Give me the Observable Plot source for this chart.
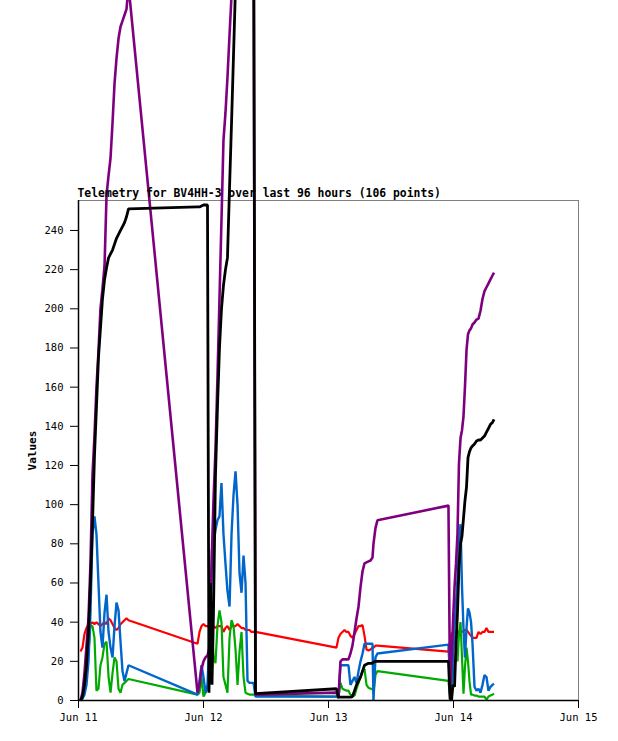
<!DOCTYPE html>
<html>
<head>
<meta charset="utf-8">
<script src="https://cdn.jsdelivr.net/npm/d3@7"></script>
<script src="https://cdn.jsdelivr.net/npm/@observablehq/plot@0.6"></script>
<style>
  html, body { margin: 0; padding: 0; background: #fff; }
  #chart svg { display: block; overflow: visible; }
</style>
</head>
<body>
<div id="chart"></div>
<script>
const title = "Telemetry for BV4HH-3 over last 96 hours (106 points)";
const yLabel = "Values";
const xTickLabels = ["Jun 11", "Jun 12", "Jun 13", "Jun 14", "Jun 15"];
const yTicks = [0, 20, 40, 60, 80, 100, 120, 140, 160, 180, 200, 220, 240];

// minutes after Jun 11 00:00 (UTC)
const minutes = [
  23, 46, 69, 92, 115, 138, 161, 184, 207, 230, 253, 276, 300, 323, 346, 369, 392, 415, 438, 461, 484, 507, 530, 553, 576,
  1371, 1394, 1417, 1440, 1463, 1486, 1503, 1521, 1538, 1555, 1578, 1601, 1624, 1647, 1670, 1693, 1716, 1740, 1763, 1786, 1809, 1832, 1855, 1878, 1901, 1924, 1947, 1970, 1993, 2016, 2039,
  2972, 2995, 3018, 3041, 3064, 3087, 3110, 3133, 3156, 3180, 3203, 3226, 3249, 3272, 3295, 3318, 3341, 3364, 3387, 3398, 3421, 3444,
  4262, 4280, 4297, 4314, 4332, 4349, 4366, 4383, 4401, 4418, 4435, 4452, 4470, 4487, 4504, 4522, 4539, 4562, 4585, 4608, 4631, 4654, 4677, 4700, 4723, 4746, 4769, 4787
];

const redValues = [
  25, 27, 34, 37, 39, 39, 40, 39, 40, 39, 38, 39, 40, 39, 42, 41, 39, 37, 36, 37, 39, 40, 41, 42, 41,
  29, 35, 38, 39, 38, 38, 38, 37, 38, 38, 37, 38, 38, 38, 35, 37, 38, 36, 38, 38, 38, 39, 38, 37, 37, 36, 36, 36, 35, 35, 35,
  27, 32, 34, 35, 36, 35, 35, 33, 32, 34, 36, 38, 38, 38.5, 33, 26, 25.5, 26, 27, 27, 28, 28,
  25, 30, 34, 35, 35, 34.5, 35, 35, 35, 35, 35.5, 36, 36, 35, 34, 33, 32, 32, 32, 35, 34, 35, 35, 37, 35, 35, 35, 35
];

const greenValues = [
  0, 1, 5, 15, 25, 38, 38, 32, 5, 6, 18, 22, 29, 30, 12, 4, 14, 22, 20, 6, 4, 8, 9, 10, 11,
  3, 4, 12, 2, 4, 6, 15, 24, 34, 23, 19, 38, 46, 40, 12, 8, 4, 32, 41, 38, 26, 8, 25, 35, 12, 4, 3.5, 3, 3, 3, 2.5,
  2, 1.5, 9, 6, 5.5, 5, 5, 3, 2.5, 2.5, 6, 9, 12, 15, 16, 8, 6.5, 6, 6, 4, 13, 15,
  10, 2, 5, 14, 18, 24, 20, 34, 40, 22, 3.5, 17, 27, 20, 10, 3, 3, 2.5, 2.5, 2, 2, 2, 2, 0.5, 2, 2.5, 3, 3.5
];

const blueValues = [
  0, 1, 3, 8, 20, 45, 85, 94, 85, 60, 35, 27, 45, 54, 35, 27, 22, 38, 50, 46, 30, 15, 10, 14, 18,
  3, 10, 18, 12, 4, 8, 25, 37, 77, 80, 87, 92, 94, 111, 85, 70, 56, 48, 85, 105, 117, 100, 65, 55, 74, 60, 10, 9, 9, 9, 2,
  2, 1.5, 18, 18, 18, 18, 18, 8, 10, 12, 9, 15, 20, 24, 29, 29, 29, 29, 29, 0, 22, 24,
  28.5, 10, 1, 20, 38, 50, 62, 82, 90, 58, 37, 22, 37, 47, 45, 40, 29, 7, 5, 6, 4, 8, 13, 12, 5, 7, 8, 8.5
];

const purpleValues = [
  0, 4, 14, 28, 42, 70, 115, 135, 160, 178, 200, 210, 222, 258, 268, 277, 295, 315, 328, 338, 344, 347, 350, 353, 365,
  4, 8, 16, 20, 22, 23, 26, 50, 77, 102, 128, 165, 205, 245, 286, 300, 318, 340, 360, 380, 395, 405, 410, 415, 418, 420, 422, 424, 426, 428, 3,
  4, 1.5, 20, 21, 21, 21, 21, 24, 28, 35, 42, 48, 58, 66, 70, 70.5, 71, 71.5, 73, 80, 88, 92,
  99.5, 4, 20, 40, 58, 70, 85, 121, 134, 138, 145, 160, 179, 187, 189, 190, 192, 193, 194.5, 195, 199, 205, 209, 211, 213, 215, 217, 218.5
];

const blackValues = [
  0, 2, 8, 18, 35, 60, 90, 125, 150, 175, 190, 205, 215, 221, 226, 228, 230, 233, 236, 238, 240, 242, 244, 247, 251,
  252, 252, 252.5, 253, 253, 253, 4, 60, 8, 45, 115, 150, 180, 200, 212, 220, 226, 262, 295, 330, 365, 390, 400, 410, 415, 420, 425, 428, 430, 432, 3.5,
  6, 1.7, 1.7, 1.7, 1.7, 1.7, 1.7, 1.7, 2, 5, 8, 10, 12, 15, 18, 18.5, 19, 19, 19, 19.5, 20, 20,
  20, 1, 0, 8, 7, 28, 45, 68, 80, 84, 93, 102, 109, 124, 127, 129, 130, 131, 132.5, 133, 133, 134, 135, 137, 139, 141, 142, 143.5
];

const seriesColors = ["#ff0000", "#00aa00", "#0066cc", "#7f007f", "#000000"];
const seriesValues = [redValues, greenValues, blueValues, purpleValues, blackValues];
const seriesWidths = [2.2, 2.2, 2.4, 2.6, 2.8];

const base = Date.UTC(2024, 5, 11);
const times = minutes.map(m => new Date(base + m * 60000));
const xStart = new Date(base);
const xEnd = new Date(base + 4 * 86400000);
const xTicks = d3.range(5).map(i => new Date(base + i * 86400000));

const lineMarks = seriesValues.map((vals, k) =>
  Plot.line(times.map((t, i) => ({t, v: vals[i]})), {
    x: "t", y: "v", stroke: seriesColors[k], strokeWidth: seriesWidths[k],
    strokeLinejoin: "miter", strokeLinecap: "butt"
  })
);

const chart = Plot.plot({
  width: 618,
  height: 741,
  marginTop: 200,
  marginBottom: 41,
  marginLeft: 78,
  marginRight: 40,
  style: {background: "white", color: "black", fontFamily: "'DejaVu Sans Mono', monospace", fontSize: "10px", overflow: "visible"},
  x: {type: "utc", domain: [xStart, xEnd]},
  y: {domain: [0, 255.3]},
  marks: [
    Plot.frame({stroke: "#808080", strokeWidth: 1}),
    ...lineMarks,
    Plot.ruleX([xStart], {stroke: "black", strokeWidth: 1.5}),
    Plot.ruleY([0], {stroke: "black", strokeWidth: 1.5}),
    Plot.axisX({ticks: xTicks, tickFormat: (d, i) => xTickLabels[i], tickSize: 8, tickPadding: 5, label: null, fontSize: 10.5}),
    Plot.axisY({ticks: yTicks, tickSize: 8, tickPadding: 7, label: null, fontSize: 10.5}),
    Plot.text([title], {frameAnchor: "top-left", dx: -1, dy: -4, textAnchor: "start", lineAnchor: "bottom", fontWeight: "bold", fontSize: 11.4}),
    Plot.text([yLabel], {frameAnchor: "left", dx: -46, rotate: -90, textAnchor: "middle", fontWeight: "bold", fontSize: 11})
  ]
});
document.getElementById("chart").appendChild(chart);
</script>
</body>
</html>
